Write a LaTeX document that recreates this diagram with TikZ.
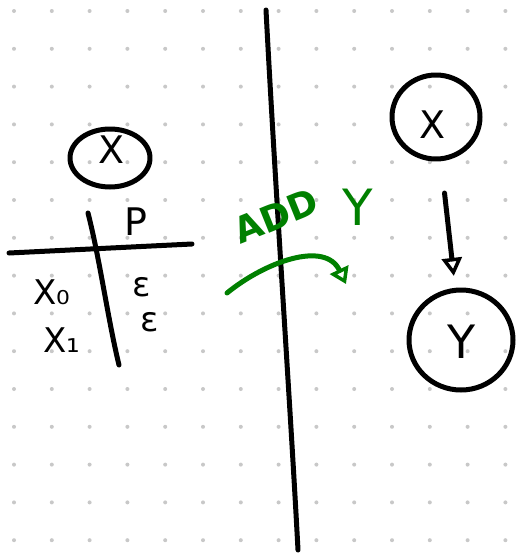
\documentclass[tikz,border=0pt]{standalone}
\usetikzlibrary{shapes.geometric,arrows.meta}
\usepackage{fontspec}
\newfontfamily\handfont{DejaVu Sans}
\definecolor{pen}{RGB}{0,0,0}
\definecolor{gpen}{RGB}{0,128,0}
\definecolor{dotc}{RGB}{200,200,200}
\begin{document}
\begin{tikzpicture}[x=1pt,y=-1pt,
  ink/.style={line width=5pt,line cap=round,line join=round,draw=pen},
  ginkline/.style={line width=5pt,line cap=round,line join=round,draw=gpen},
  bubble/.style={ellipse,ink,inner sep=0pt},
  hand/.style={font=\handfont\fontsize{38}{38}\selectfont,inner sep=0pt},
  small/.style={font=\handfont\fontsize{34}{34}\selectfont,inner sep=0pt},
  glabel/.style={font=\handfont\bfseries\fontsize{36}{36}\selectfont,text=gpen,inner sep=0pt}]
\useasboundingbox (0,0) rectangle (518,557);
\fill[white] (0,0) rectangle (518,557);
% dot grid
\foreach \i in {0,...,13}{\foreach \j in {0,...,14}{
  \fill[dotc] ({14+37.8*\i},{11+37.8*\j}) circle (2);}}
% divider
\coordinate (dtop) at (266,10);
\coordinate (dbot) at (298,550);
\draw[ink] (dtop) .. controls (276,200) and (290,400) .. (dbot);
% left side
\node[bubble,minimum width=80pt,minimum height=58pt] (xl) at (110,158) {};
\node[hand] (xlt) at (112,150) {X};
\coordinate (hl) at (9,253);
\coordinate (hr) at (192,244);
\draw[ink] (hl) -- (hr);
\coordinate (vt) at (88,213);
\coordinate (vb) at (119,365);
\draw[ink] (vt) .. controls (100,260) and (108,320) .. (vb);
\node[hand] (p) at (136,222) {P};
\node[small] (x0) at (52,292) {X₀};
\node[small] (x1) at (62,340) {X₁};
\node[small] (e0) at (142,287) {ε};
\node[small] (e1) at (150,322) {ε};
% green annotation
\node[glabel,rotate=22] (add) at (276,216) {ADD};
\node[glabel,font=\handfont\fontsize{50}{50}\selectfont] (addy) at (358,207) {Y};
\coordinate (gs) at (227,293);
\coordinate (ge) at (346,284);
\draw[ginkline,-{Triangle[open,length=16pt,width=20pt,line width=3.5pt]}] (gs) .. controls (265,262) and (325,240) .. (ge);
% right side
\node[bubble,minimum width=88pt,minimum height=84pt] (xr) at (436,117) {};
\node[hand] (xrt) at (433,125) {X};
\node[bubble,minimum width=104pt,minimum height=100pt] (yr) at (461,340) {};
\node[hand,font=\handfont\fontsize{46}{46}\selectfont] (yrt) at (462,342) {Y};
\draw[ink,-{Triangle[open,length=18pt,width=20pt,line width=3.5pt]},shorten <=32pt,shorten >=12pt] (xr) -- (yr);
\end{tikzpicture}
\end{document}
